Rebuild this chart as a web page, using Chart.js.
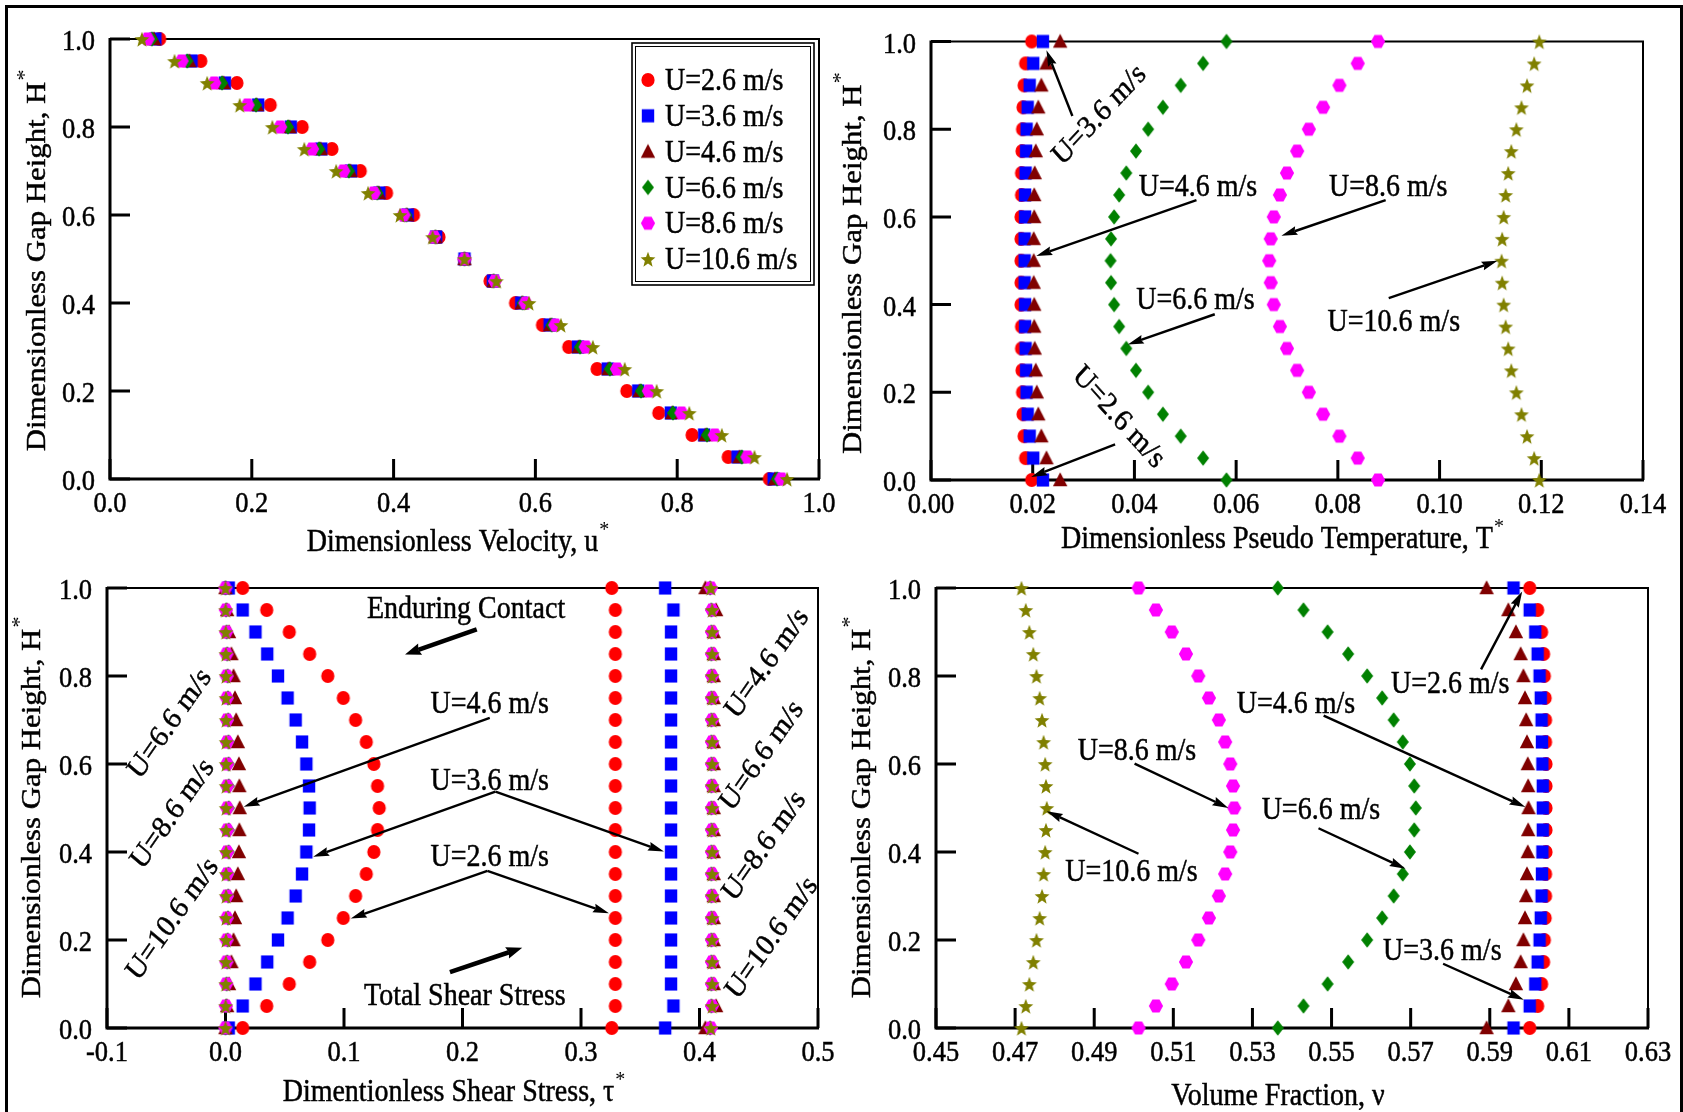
<!DOCTYPE html>
<html>
<head>
<meta charset="utf-8">
<title>Gap profiles</title>
<script src="https://cdn.jsdelivr.net/npm/chart.js@4.4.1/dist/chart.umd.min.js"></script>
<style>
  html, body { margin: 0; padding: 0; background: #fff; }
  body { position: relative; width: 1683px; height: 1112px; overflow: hidden; }
  #frame { position: absolute; left: 5px; top: 5px; width: 1678px; height: 1200px; border: 3px solid #000; border-bottom: none; box-sizing: border-box; }
  canvas { position: absolute; }
</style>
</head>
<body>
<div id="frame"></div>
<canvas id="velChart" style="left:8px;top:8px" width="850" height="560"></canvas>
<canvas id="tempChart" style="left:830px;top:8px" width="845" height="560"></canvas>
<canvas id="shearChart" style="left:8px;top:560px" width="850" height="550"></canvas>
<canvas id="fracChart" style="left:830px;top:560px" width="845" height="550"></canvas>
<script>
const serif = "'Liberation Serif', 'Times New Roman', serif";
const TALL = 1.1;   // all lettering is drawn slightly taller than wide

// gap height H* of every profile point, bottom wall to top wall
const gapHeight = [0.00, 0.05, 0.10, 0.15, 0.20, 0.25, 0.30, 0.35, 0.40, 0.45, 0.50,
                   0.55, 0.60, 0.65, 0.70, 0.75, 0.80, 0.85, 0.90, 0.95, 1.00];
const speeds = ['U=2.6 m/s', 'U=3.6 m/s', 'U=4.6 m/s', 'U=6.6 m/s', 'U=8.6 m/s', 'U=10.6 m/s'];

// dimensionless velocity u*, one row per speed
const velocity = [
  [0.930, 0.872, 0.821, 0.774, 0.729, 0.687, 0.647, 0.610, 0.572, 0.536, 0.500, 0.464, 0.428, 0.390, 0.353, 0.313, 0.271, 0.226, 0.179, 0.128, 0.070],
  [0.936, 0.885, 0.838, 0.791, 0.745, 0.702, 0.660, 0.620, 0.580, 0.540, 0.500, 0.460, 0.420, 0.380, 0.340, 0.298, 0.255, 0.209, 0.162, 0.115, 0.064],
  [0.938, 0.888, 0.840, 0.793, 0.747, 0.703, 0.661, 0.621, 0.581, 0.541, 0.500, 0.459, 0.419, 0.379, 0.339, 0.297, 0.253, 0.207, 0.160, 0.112, 0.062],
  [0.941, 0.891, 0.842, 0.794, 0.749, 0.705, 0.663, 0.623, 0.582, 0.541, 0.500, 0.459, 0.418, 0.377, 0.337, 0.295, 0.251, 0.206, 0.158, 0.109, 0.059],
  [0.947, 0.899, 0.853, 0.806, 0.760, 0.715, 0.671, 0.628, 0.586, 0.543, 0.500, 0.457, 0.414, 0.372, 0.329, 0.285, 0.240, 0.194, 0.147, 0.101, 0.053],
  [0.955, 0.909, 0.863, 0.817, 0.771, 0.726, 0.681, 0.636, 0.591, 0.545, 0.500, 0.455, 0.409, 0.364, 0.319, 0.274, 0.229, 0.183, 0.137, 0.091, 0.045]
];

// dimensionless pseudo temperature T*
const temperature = [
  [0.0198, 0.0186, 0.0183, 0.0181, 0.0180, 0.0179, 0.0178, 0.0178, 0.0177, 0.0177, 0.0177, 0.0177, 0.0177, 0.0178, 0.0178, 0.0179, 0.0180, 0.0181, 0.0183, 0.0186, 0.0198],
  [0.0220, 0.0201, 0.0194, 0.0190, 0.0188, 0.0187, 0.0186, 0.0185, 0.0185, 0.0184, 0.0184, 0.0184, 0.0185, 0.0185, 0.0186, 0.0187, 0.0188, 0.0190, 0.0194, 0.0201, 0.0220],
  [0.0254, 0.0227, 0.0217, 0.0211, 0.0208, 0.0206, 0.0204, 0.0203, 0.0203, 0.0202, 0.0202, 0.0202, 0.0203, 0.0203, 0.0204, 0.0206, 0.0208, 0.0211, 0.0217, 0.0227, 0.0254],
  [0.0581, 0.0535, 0.0491, 0.0456, 0.0427, 0.0403, 0.0384, 0.0370, 0.0360, 0.0354, 0.0353, 0.0354, 0.0360, 0.0370, 0.0384, 0.0403, 0.0427, 0.0456, 0.0491, 0.0535, 0.0581],
  [0.0879, 0.0839, 0.0803, 0.0771, 0.0743, 0.0720, 0.0700, 0.0686, 0.0674, 0.0668, 0.0665, 0.0668, 0.0674, 0.0686, 0.0700, 0.0720, 0.0743, 0.0771, 0.0803, 0.0839, 0.0879],
  [0.1196, 0.1186, 0.1172, 0.1161, 0.1151, 0.1141, 0.1135, 0.1130, 0.1126, 0.1123, 0.1122, 0.1123, 0.1126, 0.1130, 0.1135, 0.1141, 0.1151, 0.1161, 0.1172, 0.1186, 0.1196]
];

// enduring contact part of the shear stress
const contactStress = [
  [0.0145, 0.0348, 0.0538, 0.0710, 0.0863, 0.0994, 0.1098, 0.1188, 0.1252, 0.1283, 0.1297, 0.1283, 0.1252, 0.1188, 0.1098, 0.0994, 0.0863, 0.0710, 0.0538, 0.0348, 0.0145],
  [0.0027, 0.0145, 0.0253, 0.0352, 0.0443, 0.0524, 0.0592, 0.0646, 0.0682, 0.0705, 0.0710, 0.0705, 0.0682, 0.0646, 0.0592, 0.0524, 0.0443, 0.0352, 0.0253, 0.0145, 0.0027],
  [0.0000, 0.0014, 0.0030, 0.0050, 0.0068, 0.0080, 0.0090, 0.0104, 0.0113, 0.0117, 0.0120, 0.0117, 0.0113, 0.0104, 0.0090, 0.0080, 0.0068, 0.0050, 0.0030, 0.0014, 0.0000],
  [0.0000, 0.0005, 0.0010, 0.0015, 0.0018, 0.0021, 0.0023, 0.0025, 0.0026, 0.0027, 0.0027, 0.0027, 0.0026, 0.0025, 0.0023, 0.0021, 0.0018, 0.0015, 0.0010, 0.0005, 0.0000],
  [0.0000, 0.0003, 0.0006, 0.0008, 0.0010, 0.0011, 0.0012, 0.0013, 0.0013, 0.0014, 0.0014, 0.0014, 0.0013, 0.0013, 0.0012, 0.0011, 0.0010, 0.0008, 0.0006, 0.0003, 0.0000],
  [0.0000, 0.0001, 0.0002, 0.0003, 0.0004, 0.0004, 0.0005, 0.0005, 0.0005, 0.0005, 0.0005, 0.0005, 0.0005, 0.0005, 0.0005, 0.0004, 0.0004, 0.0003, 0.0002, 0.0001, 0.0000]
];

// total shear stress
const totalStress = [
  [0.326, 0.329, 0.329, 0.329, 0.329, 0.329, 0.329, 0.329, 0.329, 0.329, 0.329, 0.329, 0.329, 0.329, 0.329, 0.329, 0.329, 0.329, 0.329, 0.329, 0.326],
  [0.371, 0.378, 0.376, 0.376, 0.376, 0.376, 0.376, 0.376, 0.376, 0.376, 0.376, 0.376, 0.376, 0.376, 0.376, 0.376, 0.376, 0.376, 0.376, 0.378, 0.371],
  [0.405, 0.414, 0.412, 0.412, 0.412, 0.412, 0.412, 0.412, 0.412, 0.412, 0.412, 0.412, 0.412, 0.412, 0.412, 0.412, 0.412, 0.412, 0.412, 0.414, 0.405],
  [0.409, 0.410, 0.410, 0.410, 0.410, 0.410, 0.410, 0.410, 0.410, 0.410, 0.410, 0.410, 0.410, 0.410, 0.410, 0.410, 0.410, 0.410, 0.410, 0.410, 0.409],
  [0.4095, 0.4105, 0.4105, 0.4105, 0.4105, 0.4105, 0.4105, 0.4105, 0.4105, 0.4105, 0.4105, 0.4105, 0.4105, 0.4105, 0.4105, 0.4105, 0.4105, 0.4105, 0.4105, 0.4105, 0.4095],
  [0.4095, 0.4107, 0.4107, 0.4107, 0.4107, 0.4107, 0.4107, 0.4107, 0.4107, 0.4107, 0.4107, 0.4107, 0.4107, 0.4107, 0.4107, 0.4107, 0.4107, 0.4107, 0.4107, 0.4107, 0.4095]
];

// solids volume fraction
const volumeFraction = [
  [0.6001, 0.6021, 0.6031, 0.6036, 0.6038, 0.6040, 0.6041, 0.6041, 0.6042, 0.6042, 0.6042, 0.6042, 0.6042, 0.6041, 0.6041, 0.6040, 0.6038, 0.6036, 0.6031, 0.6021, 0.6001],
  [0.5960, 0.6001, 0.6015, 0.6021, 0.6026, 0.6029, 0.6031, 0.6032, 0.6033, 0.6034, 0.6034, 0.6034, 0.6033, 0.6032, 0.6031, 0.6029, 0.6026, 0.6021, 0.6015, 0.6001, 0.5960],
  [0.5892, 0.5947, 0.5966, 0.5978, 0.5985, 0.5989, 0.5992, 0.5994, 0.5996, 0.5997, 0.5998, 0.5997, 0.5996, 0.5994, 0.5992, 0.5989, 0.5985, 0.5978, 0.5966, 0.5947, 0.5892],
  [0.5364, 0.5429, 0.5490, 0.5542, 0.5590, 0.5628, 0.5657, 0.5680, 0.5698, 0.5709, 0.5713, 0.5709, 0.5698, 0.5680, 0.5657, 0.5628, 0.5590, 0.5542, 0.5490, 0.5429, 0.5364],
  [0.5012, 0.5056, 0.5096, 0.5132, 0.5163, 0.5190, 0.5215, 0.5231, 0.5244, 0.5251, 0.5254, 0.5251, 0.5244, 0.5231, 0.5215, 0.5190, 0.5163, 0.5132, 0.5096, 0.5056, 0.5012],
  [0.4716, 0.4727, 0.4736, 0.4746, 0.4754, 0.4762, 0.4768, 0.4772, 0.4776, 0.4778, 0.4780, 0.4778, 0.4776, 0.4772, 0.4768, 0.4762, 0.4754, 0.4746, 0.4736, 0.4727, 0.4716]
];

// axis tick values
const heightTicks = [0, 0.2, 0.4, 0.6, 0.8, 1.0];
const velocityTicks = [0, 0.2, 0.4, 0.6, 0.8, 1.0];
const temperatureTicks = [0, 0.02, 0.04, 0.06, 0.08, 0.10, 0.12, 0.14];
const stressTicks = [-0.1, 0, 0.1, 0.2, 0.3, 0.4, 0.5];
const fractionTicks = [0.45, 0.47, 0.49, 0.51, 0.53, 0.55, 0.57, 0.59, 0.61, 0.63];

// text notes and arrows, placed in data units of each panel (rot in screen degrees)
const temperatureNotes = [
  { text: 'U=3.6 m/s', x: 0.0329, y: 0.835, rot: -47 },
  { text: 'U=4.6 m/s', x: 0.0525, y: 0.670 },
  { text: 'U=8.6 m/s', x: 0.0899, y: 0.670 },
  { text: 'U=6.6 m/s', x: 0.0520, y: 0.413 },
  { text: 'U=10.6 m/s', x: 0.0910, y: 0.363 },
  { text: 'U=2.6 m/s', x: 0.0371, y: 0.146, rot: 48 }
];
const temperatureArrows = [
  [0.0278, 0.83, 0.0227, 0.98], [0.0522, 0.638, 0.0207, 0.511], [0.0894, 0.638, 0.0689, 0.557],
  [0.0558, 0.378, 0.0387, 0.309], [0.0900, 0.415, 0.1114, 0.500], [0.0362, 0.081, 0.0197, 0.007]
];
const stressNotes = [
  { text: 'Enduring Contact', x: 0.203, y: 0.956 },
  { text: 'U=4.6 m/s', x: 0.223, y: 0.740 },
  { text: 'U=3.6 m/s', x: 0.223, y: 0.564 },
  { text: 'U=2.6 m/s', x: 0.223, y: 0.392 },
  { text: 'Total Shear Stress', x: 0.202, y: 0.076 },
  { text: 'U=6.6 m/s', x: -0.048, y: 0.694, rot: -55 },
  { text: 'U=8.6 m/s', x: -0.0457, y: 0.489, rot: -55 },
  { text: 'U=10.6 m/s', x: -0.0457, y: 0.250, rot: -55 },
  { text: 'U=4.6 m/s', x: 0.456, y: 0.831, rot: -55 },
  { text: 'U=6.6 m/s', x: 0.4516, y: 0.621, rot: -55 },
  { text: 'U=8.6 m/s', x: 0.4536, y: 0.416, rot: -55 },
  { text: 'U=10.6 m/s', x: 0.460, y: 0.207, rot: -55 }
];
const stressArrows = [
  [0.223, 0.705, 0.0154, 0.503],
  [0.2278, 0.537, 0.074, 0.389], [0.2278, 0.537, 0.370, 0.401],
  [0.221, 0.357, 0.1057, 0.249], [0.221, 0.357, 0.3236, 0.261]
];
const stressBoldArrows = [
  [0.212, 0.906, 0.1515, 0.849], [0.1894, 0.127, 0.2504, 0.1823]
];
const fractionNotes = [
  { text: 'U=2.6 m/s', x: 0.580, y: 0.785 },
  { text: 'U=4.6 m/s', x: 0.541, y: 0.740 },
  { text: 'U=8.6 m/s', x: 0.5008, y: 0.633 },
  { text: 'U=6.6 m/s', x: 0.5473, y: 0.497 },
  { text: 'U=10.6 m/s', x: 0.4994, y: 0.357 },
  { text: 'U=3.6 m/s', x: 0.578, y: 0.177 }
];
const fractionArrows = [
  [0.5878, 0.815, 0.5982, 0.992], [0.548, 0.71, 0.599, 0.502], [0.5002, 0.601, 0.5239, 0.500],
  [0.5467, 0.454, 0.5687, 0.362], [0.5012, 0.396, 0.478, 0.4925], [0.5782, 0.146, 0.5986, 0.064]
];

// marker sprites: circle, square, triangle, diamond, hexagon, star
const markerColors = ['#ff0000', '#0000ff', '#800000', '#008000', '#ff00ff', '#808000'];
const markerShapes = ['circle', 'square', 'triangle', 'diamond', 'hexagon', 'star'];

function makeMarker(shape, color) {
  const c = document.createElement('canvas');
  c.width = c.height = 20;
  const g = c.getContext('2d');
  const m = 10;
  g.translate(m, m);
  g.scale(1, 1.06);
  g.fillStyle = color;
  g.beginPath();
  if (shape === 'circle') {
    g.arc(0, 0, 6.6, 0, Math.PI * 2);
  } else if (shape === 'square') {
    g.rect(-6.2, -6.2, 12.4, 12.4);
  } else if (shape === 'triangle') {
    g.moveTo(0, -7.2); g.lineTo(7.2, 5.8); g.lineTo(-7.2, 5.8);
  } else if (shape === 'diamond') {
    g.moveTo(0, -7.2); g.lineTo(6, 0); g.lineTo(0, 7.2); g.lineTo(-6, 0);
  } else if (shape === 'hexagon') {
    for (let i = 0; i < 6; i++) {
      const a = Math.PI / 3 * i;
      g.lineTo(7.1 * Math.cos(a), 7.1 * Math.sin(a));
    }
  } else {
    for (let i = 0; i < 10; i++) {
      const a = -Math.PI / 2 + Math.PI / 5 * i;
      const r = i % 2 ? 3.3 : 7.8;
      g.lineTo(r * Math.cos(a), 0.9 + r * Math.sin(a));
    }
  }
  g.closePath();
  g.fill();
  return c;
}
const markers = markerShapes.map((s, i) => makeMarker(s, markerColors[i]));

function series(values, i) {
  return {
    label: speeds[i],
    data: values.map((v, k) => ({ x: v, y: gapHeight[k] })),
    pointStyle: markers[i],
    pointRadius: 7,
    pointHoverRadius: 7,
    order: 5 - i,
    clip: false
  };
}

// text centred on (x, y) by its cap height; rot in screen degrees
function label(ctx, text, x, y, size, align, rot) {
  ctx.save();
  ctx.translate(x, y);
  ctx.scale(1, TALL);
  if (rot) {
    const t = Math.atan(Math.tan(Math.abs(rot) * Math.PI / 180) / TALL);
    ctx.rotate(rot < 0 ? -t : t);
  }
  ctx.font = size + 'px ' + serif;
  ctx.textAlign = align;
  ctx.textBaseline = 'alphabetic';
  ctx.lineWidth = 0.45;
  ctx.fillText(text, 0, 0.33 * size);
  ctx.strokeText(text, 0, 0.33 * size);
  ctx.restore();
}

function axisTitle(ctx, text, sup, cx, cy, vertical) {
  ctx.save();
  ctx.translate(cx, cy);
  ctx.scale(1, TALL);
  if (vertical) ctx.rotate(-Math.PI / 2);
  ctx.textAlign = 'left';
  ctx.textBaseline = 'alphabetic';
  ctx.lineWidth = 0.45;
  ctx.font = '28px ' + serif;
  const w1 = ctx.measureText(text).width;
  ctx.font = '20px ' + serif;
  const w2 = sup ? ctx.measureText(sup).width : 0;
  const x0 = -(w1 + w2) / 2;
  ctx.font = '28px ' + serif;
  ctx.fillText(text, x0, 9.3);
  ctx.strokeText(text, x0, 9.3);
  if (sup) {
    ctx.font = '20px ' + serif;
    ctx.fillText(sup, x0 + w1 + 1, -5);
  }
  ctx.restore();
}

function arrow(ctx, x1, y1, x2, y2, lw, len, half) {
  const a = Math.atan2(y2 - y1, x2 - x1);
  const c = Math.cos(a), s = Math.sin(a);
  const bx = x2 - len * c, by = y2 - len * s;
  ctx.lineWidth = lw;
  ctx.beginPath(); ctx.moveTo(x1, y1); ctx.lineTo(bx + 2 * c, by + 2 * s); ctx.stroke();
  ctx.beginPath();
  ctx.moveTo(x2, y2);
  ctx.lineTo(bx - half * s, by + half * c);
  ctx.lineTo(bx + 2 * c, by + 2 * s);
  ctx.lineTo(bx + half * s, by - half * c);
  ctx.closePath(); ctx.fill();
}

// frame, inward ticks, tick labels, titles, notes and legend of one panel
function decor(cfg) {
  return {
    id: 'decor',
    beforeDatasetsDraw(chart) {
      const { ctx, chartArea: a, scales: { x, y } } = chart;
      ctx.save();
      ctx.strokeStyle = '#000';
      ctx.fillStyle = '#000';
      ctx.lineWidth = 3;
      ctx.beginPath();
      x.ticks.forEach(t => { const p = x.getPixelForValue(t.value); ctx.moveTo(p, a.bottom); ctx.lineTo(p, a.bottom - 20); });
      y.ticks.forEach(t => { const p = y.getPixelForValue(t.value); ctx.moveTo(a.left, p); ctx.lineTo(a.left + 20, p); });
      ctx.stroke();
      ctx.lineWidth = 2;
      ctx.beginPath(); ctx.moveTo(a.left, a.top); ctx.lineTo(a.right, a.top); ctx.lineTo(a.right, a.bottom); ctx.stroke();
      ctx.lineWidth = 3;
      ctx.beginPath(); ctx.moveTo(a.left, a.top - 1); ctx.lineTo(a.left, a.bottom); ctx.lineTo(a.right + 1, a.bottom); ctx.stroke();

      x.ticks.forEach(t => label(ctx, t.value.toFixed(cfg.xDigits), x.getPixelForValue(t.value), a.bottom + 23.5, 26.5, 'center'));
      y.ticks.forEach(t => label(ctx, t.value.toFixed(1), a.left - 15, y.getPixelForValue(t.value) + 1.5, 26.5, 'right'));
      ctx.restore();
    },
    afterDraw(chart) {
      const { ctx, chartArea: a, scales: { x, y } } = chart;
      ctx.save();
      ctx.fillStyle = '#000';
      ctx.strokeStyle = '#000';
      axisTitle(ctx, cfg.xTitle, cfg.xSup, (a.left + a.right) / 2 + cfg.xTitleAt[0], a.bottom + cfg.xTitleAt[1], false);
      axisTitle(ctx, 'Dimensionless Gap Height, H', '*', a.left - cfg.yTitleAt[0], (a.top + a.bottom) / 2 + cfg.yTitleAt[1], true);

      (cfg.notes || []).forEach(n => label(ctx, n.text, x.getPixelForValue(n.x), y.getPixelForValue(n.y), 28, 'center', n.rot));
      (cfg.arrows || []).forEach(r => arrow(ctx, x.getPixelForValue(r[0]), y.getPixelForValue(r[1]),
        x.getPixelForValue(r[2]), y.getPixelForValue(r[3]), 2.4, 16, 4.5));
      (cfg.boldArrows || []).forEach(r => arrow(ctx, x.getPixelForValue(r[0]), y.getPixelForValue(r[1]),
        x.getPixelForValue(r[2]), y.getPixelForValue(r[3]), 4.5, 16, 6));

      if (cfg.legend) {
        const bw = 182, bh = 242;
        const bx = a.right - 5 - bw, by = a.top + 4;
        ctx.fillStyle = '#fff';
        ctx.fillRect(bx, by, bw, bh);
        ctx.lineWidth = 1.6;
        ctx.strokeRect(bx, by, bw, bh);
        ctx.lineWidth = 1;
        ctx.strokeRect(bx + 3.5, by + 3.5, bw - 7, bh - 7);
        ctx.fillStyle = '#000';
        speeds.forEach((s, i) => {
          const ry = by + 37 + i * 35.8;
          ctx.drawImage(markers[i], bx + 16 - 10, ry - 10);
          label(ctx, s, bx + 33, ry, 28, 'left');
        });
      }
      ctx.restore();
    }
  };
}

function axis(min, max, ticks) {
  return {
    type: 'linear', min, max,
    grid: { display: false, drawTicks: false },
    border: { display: false },
    ticks: { display: false },
    afterBuildTicks: s => { s.ticks = ticks.map(v => ({ value: v })); }
  };
}

// area: wanted plot rectangle in page pixels
function panel(id, area, xAxis, datasets, cfg) {
  const cv = document.getElementById(id);
  const cx = cv.offsetLeft, cy = cv.offsetTop;
  const yw = area.left - cx, xh = cy + cv.height - area.bottom;
  xAxis.afterFit = s => { s.height = xh; };
  const yAxis = axis(0, 1, heightTicks);
  yAxis.afterFit = s => { s.width = yw; };
  return new Chart(cv, {
    type: 'scatter',
    data: { datasets },
    options: {
      responsive: false,
      animation: false,
      events: [],
      layout: { padding: { left: 0, bottom: 0, top: area.top - cy, right: cx + cv.width - area.right } },
      scales: { x: xAxis, y: yAxis },
      plugins: { legend: { display: false }, tooltip: { enabled: false } }
    },
    plugins: [decor(cfg)]
  });
}

Chart.defaults.font.family = serif;
Chart.defaults.color = '#000';

panel('velChart', { left: 110, top: 39, right: 819, bottom: 479 },
  axis(0, 1, velocityTicks),
  velocity.map(series),
  { xDigits: 1, xTitle: 'Dimensionless Velocity, u', xSup: '*', xTitleAt: [-7, 62], yTitleAt: [74, 2], legend: true });

panel('tempChart', { left: 931, top: 41.5, right: 1643, bottom: 480 },
  axis(0, 0.14, temperatureTicks),
  temperature.map(series),
  { xDigits: 2, xTitle: 'Dimensionless Pseudo Temperature, T', xSup: '*', xTitleAt: [-5, 58], yTitleAt: [79, 3],
    notes: temperatureNotes, arrows: temperatureArrows });

panel('shearChart', { left: 107, top: 588, right: 818, bottom: 1028 },
  axis(-0.1, 0.5, stressTicks),
  contactStress.map(series).concat(totalStress.map(series)),
  { xDigits: 1, xTitle: 'Dimentionless Shear Stress, \u03c4', xSup: '*', xTitleAt: [-9, 63], yTitleAt: [76, 0],
    notes: stressNotes, arrows: stressArrows, boldArrows: stressBoldArrows });

panel('fracChart', { left: 936, top: 588, right: 1648, bottom: 1028 },
  axis(0.45, 0.63, fractionTicks),
  volumeFraction.map(series),
  { xDigits: 2, xTitle: 'Volume Fraction, \u03bd', xSup: '', xTitleAt: [-14, 67], yTitleAt: [75, 0],
    notes: fractionNotes, arrows: fractionArrows });
</script>
</body>
</html>
